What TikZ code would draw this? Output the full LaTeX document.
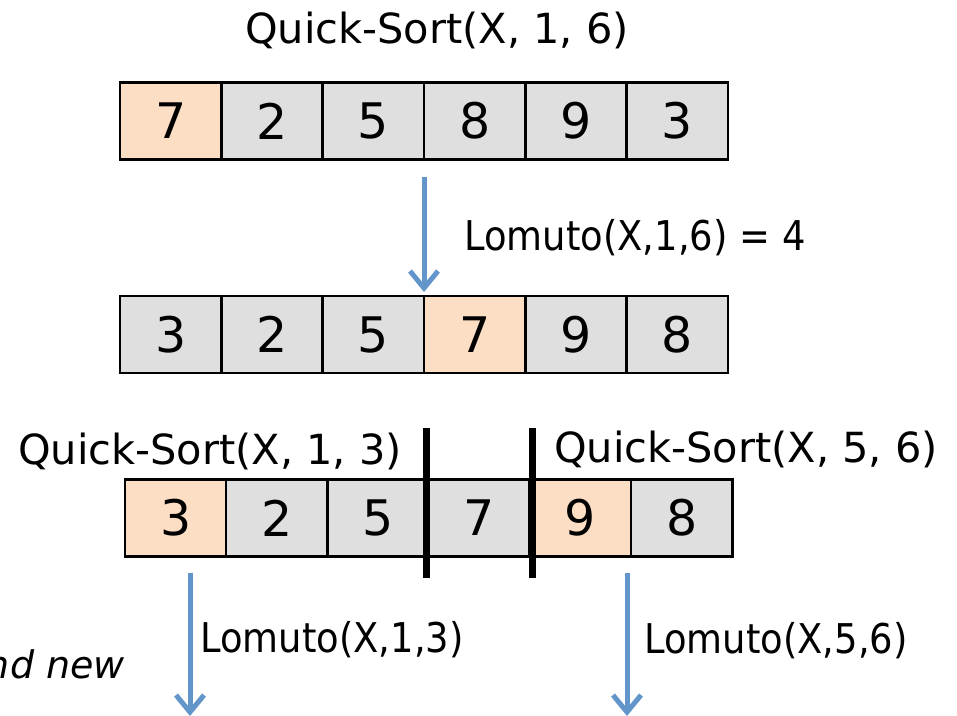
\documentclass[tikz,border=0pt]{standalone}
\usepackage{fontspec}
\setmainfont{DejaVu Sans}
\newfontfamily\narrowsans[FakeStretch=0.9]{DejaVu Sans}
\usetikzlibrary{arrows.meta}
\definecolor{pivotfill}{RGB}{251,222,196}
\definecolor{cellfill}{RGB}{223,223,223}
\definecolor{arrowblue}{RGB}{98,150,203}
\tikzset{
  cell/.style={draw=black, line width=2.6pt, fill=cellfill, minimum width=101.3pt,
               minimum height=77pt, inner sep=0pt, font=\fontsize{49}{49}\selectfont},
  pivot/.style={cell, fill=pivotfill},
  lbl/.style={inner sep=0pt, font=\fontsize{41.5}{42}\selectfont},
  steplbl/.style={inner sep=0pt, font=\narrowsans\fontsize{41}{42}\selectfont},
  flow/.style={draw=arrowblue, line width=5pt,
               -{Straight Barb[length=17pt,width=28pt,line width=5pt]}},
  divider/.style={line width=7pt, black}
}
\begin{document}
\begin{tikzpicture}[x=1pt,y=-1pt]
\useasboundingbox (0,0) rectangle (957,715);
\clip (0,0) rectangle (957,715);

% first call on the whole array
\node[lbl, anchor=base] (qs16) at (437,43) {Quick-Sort(X, 1, 6)};
\node[pivot] (a1) at (170.7,121) {7};
\node[cell]  (a2) at (272.0,121) {2};
\node[cell]  (a3) at (373.3,121) {5};
\node[cell]  (a4) at (474.7,121) {8};
\node[cell]  (a5) at (576.0,121) {9};
\node[cell]  (a6) at (677.3,121) {3};

% partition step
\coordinate (p1s) at (424,177);
\coordinate (p1e) at (424,292);
\draw[flow] (p1s) -- (p1e);
\node[steplbl, anchor=base] (lom16) at (635,250) {Lomuto(X,1,6) = 4};

% array after partitioning
\node[cell]  (b1) at (170.7,334.5) {3};
\node[cell]  (b2) at (272.0,334.5) {2};
\node[cell]  (b3) at (373.3,334.5) {5};
\node[pivot] (b4) at (474.7,334.5) {7};
\node[cell]  (b5) at (576.0,334.5) {9};
\node[cell]  (b6) at (677.3,334.5) {8};

% the two recursive calls
\node[lbl, anchor=base] (qs13) at (210,464) {Quick-Sort(X, 1, 3)};
\node[lbl, anchor=base] (qs56) at (746,462) {Quick-Sort(X, 5, 6)};
\node[pivot] (c1) at (175.6,518) {3};
\node[cell]  (c2) at (276.8,518) {2};
\node[cell]  (c3) at (378.0,518) {5};
\node[cell]  (c4) at (479.2,518) {7};
\node[pivot] (c5) at (580.4,518) {9};
\node[cell]  (c6) at (681.6,518) {8};

% dividers around the placed pivot
\coordinate (d1t) at (426,428);
\coordinate (d1b) at (426,578);
\coordinate (d2t) at (532,428);
\coordinate (d2b) at (532,578);
\draw[divider] (d1t) -- (d1b);
\draw[divider] (d2t) -- (d2b);

% next partition steps
\coordinate (p2s) at (190,573);
\coordinate (p2e) at (190,716);
\coordinate (p3s) at (627,573);
\coordinate (p3e) at (627,716);
\draw[flow] (p2s) -- (p2e);
\draw[flow] (p3s) -- (p3e);
\node[steplbl, anchor=base] (lom13) at (332,652) {Lomuto(X,1,3)};
\node[steplbl, anchor=base] (lom56) at (776,653) {Lomuto(X,5,6)};

% side remark running off the left edge
\node[lbl, anchor=base east, font=\fontsize{38}{38}\selectfont\itshape] (note) at (125,678) {and new};
\end{tikzpicture}
\end{document}
